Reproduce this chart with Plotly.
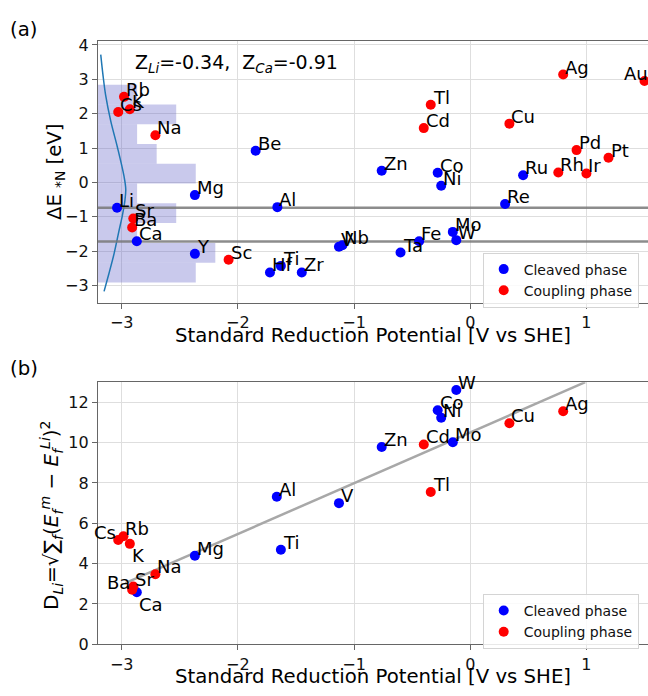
import plotly.graph_objects as go

# ---------------- data ----------------
# panel (a): standard reduction potential [V vs SHE] vs ΔE*N [eV]
a_cleaved_names = ["Li", "Ca", "Mg", "Y", "Be", "Al", "Hf", "Ti", "Zr", "V", "Nb", "Zn",
                   "Ta", "Fe", "Co", "Ni", "Mo", "W", "Re", "Ru"]
a_cleaved_x = [-3.04, -2.87, -2.37, -2.37, -1.847, -1.66, -1.724, -1.63, -1.45, -1.13, -1.10,
               -0.762, -0.60, -0.44, -0.28, -0.25, -0.15, -0.12, 0.30, 0.455]
a_cleaved_y = [-0.74, -1.71, -0.37, -2.08, 0.92, -0.72, -2.62, -2.43, -2.62, -1.87, -1.83,
               0.34, -2.04, -1.71, 0.28, -0.10, -1.44, -1.68, -0.63, 0.21]

a_coupling_names = ["Rb", "Cs", "K", "Na", "Sr", "Ba", "Sc", "Tl", "Cd", "Cu", "Rh", "Ir",
                    "Pd", "Pt", "Ag", "Au"]
a_coupling_x = [-2.98, -3.03, -2.93, -2.71, -2.90, -2.91, -2.08, -0.34, -0.40, 0.337, 0.758,
                1.00, 0.915, 1.19, 0.80, 1.50]
a_coupling_y = [2.49, 2.05, 2.13, 1.37, -1.05, -1.31, -2.25, 2.26, 1.58, 1.71, 0.29, 0.26,
                0.94, 0.72, 3.14, 2.95]
a_label_dx = {"Au": -0.19}

# reference levels (Li and Ca) and z-scores
ref_levels = [-0.74, -1.72]
z_text = "Z<sub><i>Li</i></sub>=-0.34,\u00a0\u00a0Z<sub><i>Ca</i></sub>=-0.91"

# histogram of ΔE (bin edges bottom->top, counts)
hist_edges = [-2.91, -2.335, -1.76, -1.185, -0.61, -0.035, 0.54, 1.115, 1.69, 2.265, 2.84]
hist_counts = [5, 6, 2, 4, 2, 5, 3, 2, 4, 2]

# density curve (in histogram count units)
kde_y = [3.72, 3.10, 2.54, 1.79, 1.03, 0.18, -0.20, -0.55, -0.95, -1.42, -2.08, -2.65, -3.17]
kde_x = [0.14, 0.26, 0.39, 0.65, 0.99, 1.33, 1.42, 1.37, 1.25, 1.07, 0.82, 0.56, 0.31]

# panel (b): standard reduction potential vs D_Li
b_cleaved_names = ["Mg", "Ca", "Al", "Ti", "V", "Zn", "Mo", "Co", "Ni", "W"]
b_cleaved_x = [-2.37, -2.87, -1.665, -1.63, -1.13, -0.762, -0.15, -0.28, -0.25, -0.12]
b_cleaved_y = [4.39, 2.58, 7.32, 4.69, 7.00, 9.78, 10.02, 11.61, 11.23, 12.61]

b_coupling_names = ["Cs", "Rb", "K", "Na", "Ba", "Sr", "Cd", "Tl", "Cu", "Ag"]
b_coupling_x = [-3.03, -2.985, -2.93, -2.71, -2.91, -2.90, -0.40, -0.34, 0.337, 0.80]
b_coupling_y = [5.17, 5.36, 4.98, 3.47, 2.70, 2.86, 9.91, 7.55, 10.96, 11.56]
b_label_dy = {"K": -0.97, "Ca": -0.96}
b_label_right = ["Cs", "Ba"]

# linear fit line
fit_x = [-2.97, 0.99]
fit_y = [3.03, 13.0]

# axes
x_range = [-3.204, 1.53]
x_ticks = [-3, -2, -1, 0, 1]
x_ticktext = ["\u22123", "\u22122", "\u22121", "0", "1"]
ya_range = [-3.51, 4.11]
ya_ticks = [-3, -2, -1, 0, 1, 2, 3, 4]
ya_ticktext = ["\u22123", "\u22122", "\u22121", "0", "1", "2", "3", "4"]
yb_range = [0, 13]
yb_ticks = [0, 2, 4, 6, 8, 10, 12]
hist_axis_range = [0, 28.13]

x_title = "Standard Reduction Potential [V vs SHE]"
ya_title = "\u0394E <sub>*N</sub> [eV]"
yb_title = ("D<sub><i>Li</i></sub>=\u221a\u2211<sub><i>f</i></sub>(<i>E</i><sub><i>f</i></sub>"
            "<sup><i>m</i></sup> \u2212 <i>E</i><sub><i>f</i></sub><sup><i>Li</i></sup>)<sup>2</sup>")
legend_names = ["Cleaved phase", "Coupling phase"]

# ---------------- figure ----------------
W, H = 648, 696
FONT = "DejaVu Sans"
BLUE, RED = "#0000ff", "#ff0000"
GRID = "#dedede"
SPINE = "#666666"

def px_x(p):
    return p / W

def px_y(p):
    return 1 - p / H

xa_dom = [px_x(98), 1.0]
ya_dom = [px_y(304), px_y(36)]
yb_dom = [px_y(653.3), px_y(385)]

fig = go.Figure()

# histogram (hidden count axis x, y)
centers = [(hist_edges[i] + hist_edges[i + 1]) / 2 for i in range(len(hist_counts))]
widths = [hist_edges[i + 1] - hist_edges[i] for i in range(len(hist_counts))]
fig.add_trace(go.Bar(x=hist_counts, y=centers, width=widths, orientation="h",
                     base=0, xaxis="x", yaxis="y",
                     marker=dict(color="rgba(100,100,200,0.35)", line=dict(width=0)),
                     showlegend=False, hoverinfo="skip"))
fig.add_trace(go.Scatter(x=kde_x, y=kde_y, mode="lines", xaxis="x", yaxis="y",
                         line=dict(color="#1f77b4", width=1.5, shape="spline"),
                         showlegend=False, hoverinfo="skip"))

# reference lines (overlay axis x3)
for lv in ref_levels:
    fig.add_trace(go.Scatter(x=x_range, y=[lv, lv], mode="lines", xaxis="x3", yaxis="y",
                             line=dict(color="rgba(120,120,120,0.85)", width=2.5),
                             showlegend=False, hoverinfo="skip"))

mk = dict(size=10, line=dict(width=0))
fig.add_trace(go.Scatter(x=a_cleaved_x, y=a_cleaved_y, mode="markers", xaxis="x3", yaxis="y",
                         marker=dict(color=BLUE, **mk), name=legend_names[0], legend="legend"))
fig.add_trace(go.Scatter(x=a_coupling_x, y=a_coupling_y, mode="markers", xaxis="x3", yaxis="y",
                         marker=dict(color=RED, **mk), name=legend_names[1], legend="legend"))

# panel b
fig.add_trace(go.Scatter(x=fit_x, y=fit_y, mode="lines", xaxis="x2", yaxis="y2",
                         line=dict(color="#a8a8a8", width=2.5), showlegend=False,
                         hoverinfo="skip"))
fig.add_trace(go.Scatter(x=b_cleaved_x, y=b_cleaved_y, mode="markers", xaxis="x2", yaxis="y2",
                         marker=dict(color=BLUE, **mk), name=legend_names[0], legend="legend2"))
fig.add_trace(go.Scatter(x=b_coupling_x, y=b_coupling_y, mode="markers", xaxis="x2", yaxis="y2",
                         marker=dict(color=RED, **mk), name=legend_names[1], legend="legend2"))

ann = []
LBL = dict(size=18, family=FONT, color="black")

def add_label(name, x, y, xref, yref, anchor="left"):
    ann.append(dict(x=x, y=y, xref=xref, yref=yref, text=name, showarrow=False,
                    xanchor=anchor, yanchor="bottom", yshift=-5, font=LBL))

for n, x, y in zip(a_cleaved_names + a_coupling_names, a_cleaved_x + a_coupling_x,
                   a_cleaved_y + a_coupling_y):
    add_label(n, x + a_label_dx.get(n, 0), y, "x3", "y")

for n, x, y in zip(b_cleaved_names + b_coupling_names, b_cleaved_x + b_coupling_x,
                   b_cleaved_y + b_coupling_y):
    add_label(n, x, y + b_label_dy.get(n, 0), "x2", "y2",
              "right" if n in b_label_right else "left")

ann.append(dict(x=px_x(133), y=px_y(68.5), xref="paper", yref="paper", text=z_text,
                showarrow=False, xanchor="left", yanchor="bottom", yshift=-5,
                font=dict(size=19, family=FONT, color="black")))

TF = dict(size=19.7, family=FONT, color="black")
ann.append(dict(x=px_x(373), y=px_y(337), xref="paper", yref="paper", text=x_title,
                showarrow=False, xanchor="center", yanchor="middle", font=TF))
ann.append(dict(x=px_x(373), y=px_y(686), xref="paper", yref="paper", text=x_title,
                showarrow=False, xanchor="center", yanchor="middle", font=TF))
ann.append(dict(x=px_x(55), y=px_y(170), xref="paper", yref="paper", text=ya_title,
                showarrow=False, textangle=-90, xanchor="center", yanchor="middle", font=TF))
ann.append(dict(x=px_x(51), y=px_y(521), xref="paper", yref="paper", text=yb_title,
                showarrow=False, textangle=-90, xanchor="center", yanchor="middle",
                font=dict(size=20, family=FONT, color="black")))
ann.append(dict(x=px_x(8), y=px_y(24), xref="paper", yref="paper", text="(a)",
                showarrow=False, xanchor="left", yanchor="middle", font=TF))
ann.append(dict(x=px_x(8), y=px_y(371), xref="paper", yref="paper", text="(b)",
                showarrow=False, xanchor="left", yanchor="middle", font=TF))

TICKF = dict(size=16, family=FONT, color="#111111")
common = dict(showgrid=True, gridcolor=GRID, gridwidth=1, zeroline=False, showline=True,
              linecolor=SPINE, linewidth=1.2, ticks="outside", ticklen=5, tickcolor=SPINE,
              tickfont=TICKF)

leg = dict(xanchor="left", yanchor="top", bgcolor="rgba(255,255,255,0.85)",
           bordercolor="#d4d4d4", borderwidth=1, font=dict(size=14, family=FONT, color="#111"),
           tracegroupgap=0)

fig.update_layout(
    width=W, height=H, margin=dict(l=0, r=0, t=0, b=0),
    paper_bgcolor="white", plot_bgcolor="white",
    font=dict(family=FONT),
    showlegend=True,
    xaxis=dict(domain=xa_dom, range=hist_axis_range, anchor="y", visible=False,
               showgrid=False, zeroline=False),
    xaxis3=dict(overlaying="x", anchor="y", range=x_range, tickvals=x_ticks,
                ticktext=x_ticktext, mirror=True, **common),
    yaxis=dict(domain=ya_dom, anchor="x", range=ya_range, tickvals=ya_ticks,
               ticktext=ya_ticktext, mirror=False, **common),
    xaxis2=dict(domain=xa_dom, anchor="y2", range=x_range, tickvals=x_ticks,
                ticktext=x_ticktext, mirror=True, **common),
    yaxis2=dict(domain=yb_dom, anchor="x2", range=yb_range, tickvals=yb_ticks,
                mirror=False, **common),
    legend=dict(x=px_x(482.7), y=px_y(252.3), **leg),
    legend2=dict(x=px_x(482.7), y=px_y(601.7), **leg),
    annotations=ann,
)

fig.write_html("out.html", config={"displayModeBar": False},
               post_script="document.body.style.margin='0';"
                           "document.body.style.overflow='hidden';")
